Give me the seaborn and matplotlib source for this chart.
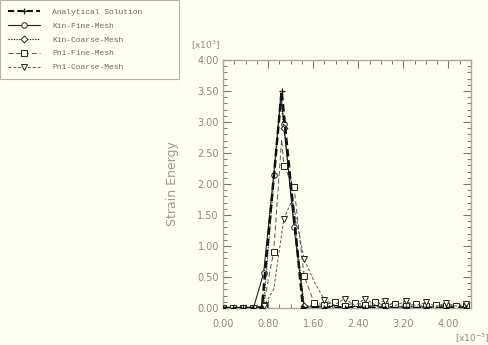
import numpy as np
import pandas as pd
import matplotlib
matplotlib.use("Agg")
import matplotlib.pyplot as plt
from matplotlib.ticker import MultipleLocator, FormatStrFormatter
from matplotlib.lines import Line2D
import seaborn as sns

# ---------------- data (x in 1e-3, y in 1e3) ----------------
ana_x = [0.00, 0.18, 0.36, 0.54, 0.69, 1.04, 1.42, 1.80, 2.16, 2.52, 2.88, 3.24, 3.60, 3.96, 4.32]
ana_y = [0.00, 0.00, 0.00, 0.00, 0.00, 3.50, 0.00, 0.00, 0.00, 0.00, 0.00, 0.00, 0.00, 0.00, 0.00]

kf_x = [0.00, 0.18, 0.36, 0.54, 0.72, 0.90, 1.03, 1.08, 1.26, 1.44, 1.62, 1.80, 1.98, 2.16,
        2.34, 2.52, 2.70, 2.88, 3.06, 3.24, 3.42, 3.60, 3.78, 3.96, 4.14, 4.32]
kf_y = [0.00, 0.00, 0.00, 0.00, 0.56, 2.15, 3.44, 2.96, 1.30, 0.00, 0.03, 0.01, 0.03, 0.01,
        0.03, 0.01, 0.02, 0.01, 0.02, 0.01, 0.02, 0.01, 0.02, 0.01, 0.02, 0.01]
kf_marks = [i for i in range(len(kf_x)) if i != 6]

kc_x = [0.00, 0.36, 0.72, 1.02, 1.08, 1.44, 1.80, 2.16, 2.52, 2.88, 3.24, 3.60, 3.96, 4.32]
kc_y = [0.00, 0.00, 0.03, 3.38, 2.90, 0.03, 0.04, 0.02, 0.04, 0.02, 0.03, 0.02, 0.03, 0.02]
kc_marks = [i for i in range(len(kc_x)) if i != 3]

pf_x = [0.00, 0.18, 0.36, 0.54, 0.72, 0.90, 1.04, 1.08, 1.26, 1.44, 1.62, 1.80, 1.98, 2.16,
        2.34, 2.52, 2.70, 2.88, 3.06, 3.24, 3.42, 3.60, 3.78, 3.96, 4.14, 4.32]
pf_y = [0.00, 0.00, 0.00, 0.00, 0.05, 0.91, 2.72, 2.29, 1.95, 0.51, 0.08, 0.05, 0.10, 0.04,
        0.08, 0.05, 0.09, 0.04, 0.07, 0.04, 0.06, 0.03, 0.05, 0.03, 0.04, 0.03]
pf_marks = [i for i in range(len(pf_x)) if i != 6]

pc_x = [0.00, 0.36, 0.72, 0.90, 1.08, 1.23, 1.44, 1.62, 1.80, 1.98, 2.16, 2.34, 2.52, 2.70,
        2.88, 3.06, 3.24, 3.42, 3.60, 3.78, 3.96, 4.14, 4.32]
pc_y = [0.00, 0.00, 0.03, 0.30, 1.44, 1.75, 0.79, 0.42, 0.13, 0.05, 0.15, 0.04, 0.15, 0.05,
        0.12, 0.04, 0.11, 0.04, 0.09, 0.03, 0.08, 0.03, 0.06]
pc_marks = [0, 1, 2, 4, 6, 8, 10, 12, 14, 16, 18, 20, 22]

labels = ["Analytical Solution", "Kin-Fine-Mesh", "Kin-Coarse-Mesh", "Pn1-Fine-Mesh", "Pn1-Coarse-Mesh"]

# ---------------- style ----------------
BG = "#FFFFF0"
sns.set_theme(style="ticks")
plt.rcParams["font.family"] = ["DejaVu Sans"]

fig = plt.figure(figsize=(4.89, 3.45), dpi=100, facecolor=BG)
ax = fig.add_axes([223 / 489, (345 - 308) / 345, (471 - 223) / 489, (308 - 60) / 345])
ax.set_facecolor(BG)

LC = "#222222"
common = dict(color=LC, mfc=BG, mec=LC, ms=4, mew=0.7)

sns.lineplot(x=ana_x, y=ana_y, ax=ax, color="#111111", lw=1.8, ls=(0, (3, 1.5)),
             marker="+", ms=5, mew=0.9, mec="#111111", sort=False, zorder=5)
sns.lineplot(x=kf_x, y=kf_y, ax=ax, lw=0.8, ls="-", marker="o", markevery=kf_marks, sort=False, **common)
sns.lineplot(x=kc_x, y=kc_y, ax=ax, lw=0.8, ls=(0, (1.2, 1.2)), marker="D", markevery=kc_marks,
             sort=False, **{**common, "ms": 3.5})
sns.lineplot(x=pf_x, y=pf_y, ax=ax, lw=0.7, ls=(0, (5, 3)), marker="s", markevery=pf_marks,
             sort=False, **{**common, "color": "#555555"})
sns.lineplot(x=pc_x, y=pc_y, ax=ax, lw=0.7, ls=(0, (3, 2)), marker="v", markevery=pc_marks,
             sort=False, **{**common, "color": "#555555"})

ax.set_xlim(0, 4.4)
ax.set_ylim(0, 4.0)
ax.xaxis.set_major_locator(MultipleLocator(0.8))
ax.xaxis.set_minor_locator(MultipleLocator(0.2))
ax.yaxis.set_major_locator(MultipleLocator(0.5))
ax.yaxis.set_minor_locator(MultipleLocator(0.1))
ax.xaxis.set_major_formatter(FormatStrFormatter("%.2f"))
ax.yaxis.set_major_formatter(FormatStrFormatter("%.2f"))

TC = "#8a8a80"
for s in ax.spines.values():
    s.set_color("#a8a8a0")
    s.set_linewidth(1.0)
ax.tick_params(which="both", direction="in", top=True, right=True, color="#777770",
               labelcolor=TC, labelsize=7)
ax.tick_params(which="major", length=6, width=0.8)
ax.tick_params(which="minor", length=3, width=0.7)
ax.tick_params(axis="x", which="major", pad=8)
ax.tick_params(axis="y", which="major", pad=3)

ax.set_xlabel("")
ax.set_ylabel("Strain Energy", color="#9a9a90", fontsize=9, labelpad=13)

fig.text(206 / 489, 1 - 45 / 345, r"[x10$^{3}$]", color=TC, fontsize=6.5, ha="center", va="center")
fig.text(472 / 489, 1 - 338 / 345, r"[x10$^{-3}$]", color=TC, fontsize=6.5, ha="center", va="center")

# ---------------- legend ----------------
handles = [
    Line2D([], [], color="#111111", lw=1.5, ls=(0, (3, 1.5)), marker="+", ms=5, mew=0.9, markevery=[0, 1]),
    Line2D([], [], lw=0.8, ls="-", marker="o", markevery=[0, 1], **common),
    Line2D([], [], lw=0.8, ls=(0, (1.2, 1.2)), marker="D", markevery=[0, 1], **{**common, "ms": 3.5}),
    Line2D([], [], lw=0.7, ls=(0, (5, 3)), marker="s", markevery=[0, 1], **{**common, "color": "#555555"}),
    Line2D([], [], lw=0.7, ls=(0, (3, 2)), marker="v", markevery=[0, 1], **{**common, "color": "#555555"}),
]
leg = fig.legend(handles, labels, loc="upper left", bbox_to_anchor=(0.0, 0.0, 179 / 489, 1.0),
                 mode="expand",
                 prop={"family": "Liberation Mono", "size": 5.8}, frameon=True, fancybox=False,
                 handlelength=4.0, handletextpad=1.5, labelspacing=0.78, borderpad=1.0,
                 borderaxespad=0.0, labelcolor="#6a6a60")
leg.get_frame().set_facecolor(BG)
leg.get_frame().set_edgecolor("#a0a098")
leg.get_frame().set_linewidth(0.8)

fig.savefig("out.png", dpi=100, facecolor=BG)
